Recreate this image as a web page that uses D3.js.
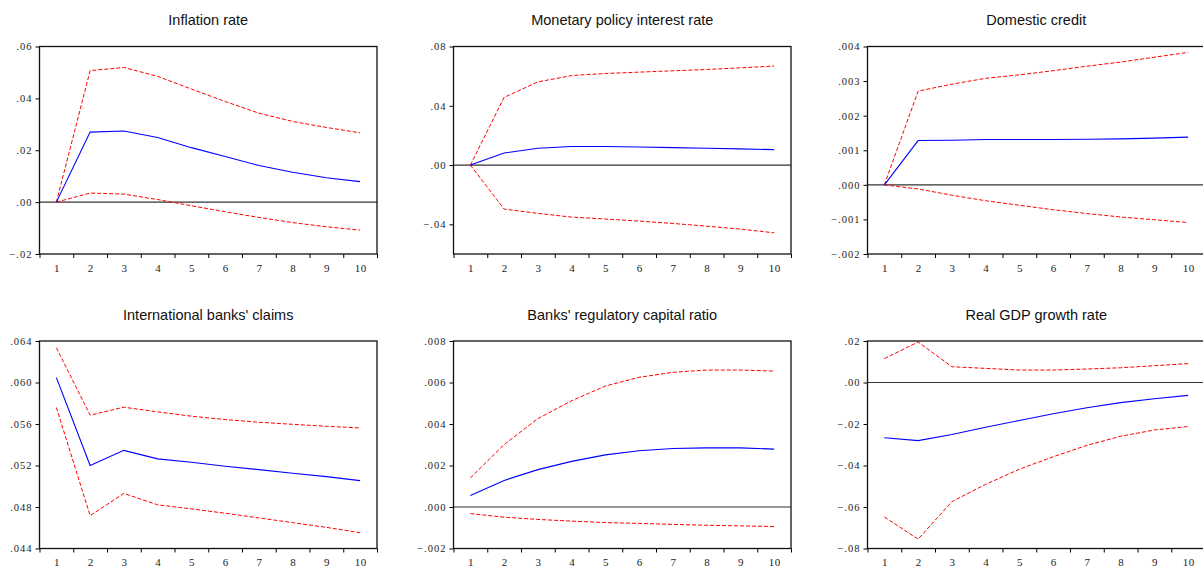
<!DOCTYPE html>
<html>
<head>
<meta charset="utf-8">
<script src="https://cdn.jsdelivr.net/npm/d3@7"></script>
<style>
  body { margin: 0; background: #fff; }
</style>
</head>
<body>
<div id="chart"></div>
<script>
const periods = [1, 2, 3, 4, 5, 6, 7, 8, 9, 10];

const titles = [
  "Inflation rate",
  "Monetary policy interest rate",
  "Domestic credit",
  "International banks' claims",
  "Banks' regulatory capital ratio",
  "Real GDP growth rate"
];

// impulse responses (blue) and +/- 2 s.e. bands (red dashed)
const inflationResp  = [0.0000, 0.0270, 0.0274, 0.0249, 0.0210, 0.0176, 0.0141, 0.0115, 0.0094, 0.0079];
const inflationUpper = [0.0000, 0.0507, 0.0519, 0.0485, 0.0436, 0.0388, 0.0343, 0.0311, 0.0288, 0.0267];
const inflationLower = [0.0000, 0.0035, 0.0031, 0.0010, -0.0014, -0.0037, -0.0059, -0.0079, -0.0095, -0.0108];

const policyResp  = [0.0000, 0.0081, 0.0113, 0.0125, 0.0125, 0.0122, 0.0118, 0.0113, 0.0109, 0.0104];
const policyUpper = [0.0000, 0.0457, 0.0561, 0.0604, 0.0618, 0.0627, 0.0636, 0.0645, 0.0656, 0.0668];
const policyLower = [0.0000, -0.0297, -0.0326, -0.0351, -0.0364, -0.0378, -0.0394, -0.0412, -0.0432, -0.0457];

const creditResp  = [0.00000, 0.00128, 0.00129, 0.00131, 0.00131, 0.00131, 0.00132, 0.00133, 0.00135, 0.00138];
const creditUpper = [0.00000, 0.00271, 0.00291, 0.00308, 0.00318, 0.00330, 0.00343, 0.00355, 0.00369, 0.00383];
const creditLower = [0.00000, -0.00012, -0.00030, -0.00046, -0.00059, -0.00072, -0.00083, -0.00093, -0.00101, -0.00109];

const claimsResp  = [0.06047, 0.05200, 0.05346, 0.05264, 0.05232, 0.05193, 0.05160, 0.05125, 0.05093, 0.05054];
const claimsUpper = [0.06335, 0.05685, 0.05762, 0.05717, 0.05675, 0.05643, 0.05617, 0.05597, 0.05578, 0.05562];
const claimsLower = [0.05759, 0.04717, 0.04931, 0.04821, 0.04782, 0.04740, 0.04695, 0.04649, 0.04604, 0.04552];

const capitalResp  = [0.00055, 0.00128, 0.00180, 0.00220, 0.00251, 0.00271, 0.00282, 0.00285, 0.00285, 0.00279];
const capitalUpper = [0.00140, 0.00301, 0.00426, 0.00512, 0.00583, 0.00625, 0.00649, 0.00660, 0.00660, 0.00655];
const capitalLower = [-0.00032, -0.00049, -0.00060, -0.00068, -0.00075, -0.00079, -0.00084, -0.00088, -0.00091, -0.00094];

const gdpResp  = [-0.0266, -0.0280, -0.0251, -0.0216, -0.0183, -0.0151, -0.0122, -0.0097, -0.0078, -0.0062];
const gdpUpper = [0.0115, 0.0195, 0.0076, 0.0068, 0.0060, 0.0060, 0.0065, 0.0071, 0.0081, 0.0091];
const gdpLower = [-0.0648, -0.0755, -0.0574, -0.0491, -0.0418, -0.0358, -0.0303, -0.0259, -0.0229, -0.0212];

const yDomains = [[-0.02, 0.06], [-0.06, 0.08], [-0.002, 0.004], [0.044, 0.064], [-0.002, 0.008], [-0.08, 0.02]];
const yTicks = [
  [-0.02, 0, 0.02, 0.04, 0.06],
  [-0.04, 0, 0.04, 0.08],
  [-0.002, -0.001, 0, 0.001, 0.002, 0.003, 0.004],
  [0.044, 0.048, 0.052, 0.056, 0.060, 0.064],
  [-0.002, 0, 0.002, 0.004, 0.006, 0.008],
  [-0.08, -0.06, -0.04, -0.02, 0, 0.02]
];
const yDecimals = [2, 2, 3, 3, 3, 2];

const panels = [
  [inflationResp, inflationUpper, inflationLower],
  [policyResp, policyUpper, policyLower],
  [creditResp, creditUpper, creditLower],
  [claimsResp, claimsUpper, claimsLower],
  [capitalResp, capitalUpper, capitalLower],
  [gdpResp, gdpUpper, gdpLower]
];

const W = 1203, H = 567;
const colLeft = [39.5, 453.5, 867.5];
const rowTop = [46.5, 341];
const pw = 337.5, ph = 207.5;

const svg = d3.select("#chart").append("svg")
    .attr("width", W)
    .attr("height", H);

panels.forEach((series, i) => {
    const g = svg.append("g")
        .attr("transform", `translate(${colLeft[i % 3]}, ${rowTop[Math.floor(i / 3)]})`);

    const x = d3.scaleLinear().domain([0.5, 10.5]).range([0, pw]);
    const y = d3.scaleLinear().domain(yDomains[i]).range([ph, 0]);

    const fmt = v => d3.format(`.${yDecimals[i]}f`)(v).replace("0.", ".");

    g.append("text")
        .attr("x", pw / 2)
        .attr("y", -21.5)
        .attr("text-anchor", "middle")
        .style("font-family", "'Liberation Sans', Arial, sans-serif")
        .style("font-size", "14.5px")
        .attr("fill", "#111")
        .text(titles[i]);

    // y axis
    const ya = g.append("g")
        .call(d3.axisLeft(y).tickValues(yTicks[i]).tickSize(4).tickPadding(3).tickFormat(fmt));
    ya.select(".domain").remove();
    ya.selectAll("text")
        .style("font-family", "'Liberation Serif', 'Times New Roman', serif")
        .style("font-size", "10.5px")
        .style("letter-spacing", "1px")
        .attr("fill", "#222");

    // x axis: tick marks between periods, labels under each period
    const xa = g.append("g")
        .attr("transform", `translate(0, ${ph})`)
        .call(d3.axisBottom(x).tickValues(d3.range(0.5, 11, 1)).tickSize(4).tickFormat(""));
    xa.select(".domain").remove();
    const xl = g.append("g")
        .attr("transform", `translate(0, ${ph})`)
        .call(d3.axisBottom(x).tickValues(periods).tickSize(0).tickPadding(10));
    xl.select(".domain").remove();
    xl.selectAll("text")
        .style("font-family", "'Liberation Serif', 'Times New Roman', serif")
        .style("font-size", "11px")
        .style("letter-spacing", "0.5px")
        .attr("fill", "#222");

    // zero line
    if (yDomains[i][0] < 0 && yDomains[i][1] > 0) {
        g.append("line")
            .attr("x1", 0).attr("x2", pw)
            .attr("y1", y(0)).attr("y2", y(0))
            .attr("stroke", "#333")
            .attr("stroke-width", 1.2);
    }

    const line = d3.line()
        .x((d, k) => x(periods[k]))
        .y(d => y(d));

    g.append("path")
        .datum(series[1])
        .attr("fill", "none")
        .attr("stroke", "#ff0000")
        .attr("stroke-width", 1)
        .attr("stroke-dasharray", "4,2")
        .attr("d", line);
    g.append("path")
        .datum(series[2])
        .attr("fill", "none")
        .attr("stroke", "#ff0000")
        .attr("stroke-width", 1)
        .attr("stroke-dasharray", "4,2")
        .attr("d", line);
    g.append("path")
        .datum(series[0])
        .attr("fill", "none")
        .attr("stroke", "#0000ff")
        .attr("stroke-width", 1.1)
        .attr("d", line);

    g.append("rect")
        .attr("width", pw)
        .attr("height", ph)
        .attr("fill", "none")
        .attr("stroke", "#111")
        .attr("stroke-width", 1.3);
});
</script>
</body>
</html>
